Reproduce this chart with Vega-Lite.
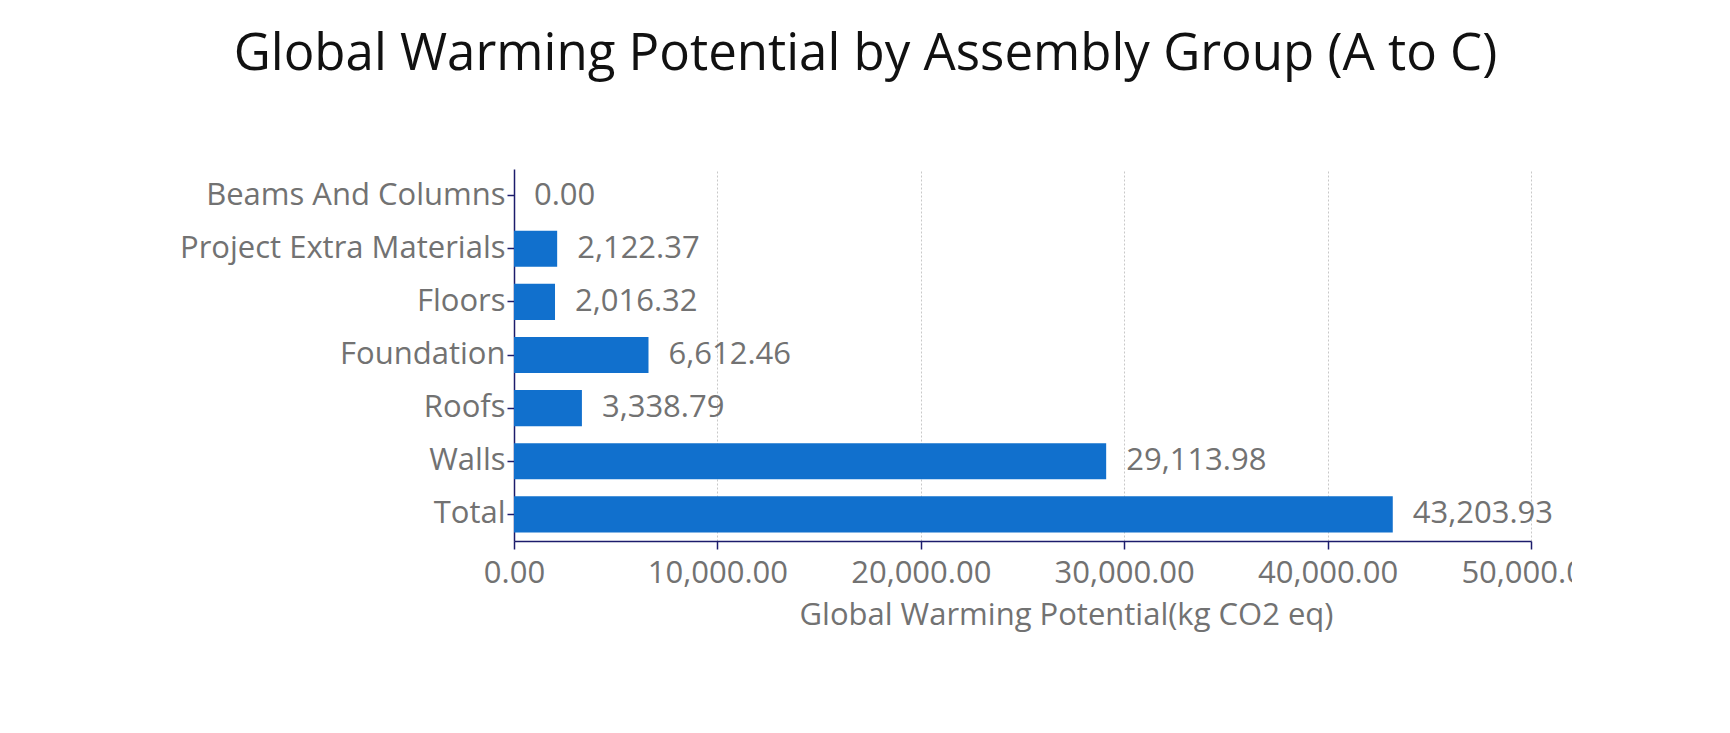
{
  "$schema": "https://vega.github.io/schema/vega-lite/v6.json",
  "width": 1017,
  "height": 372,
  "autosize": {"type": "none"},
  "padding": {"left": 514, "top": 169, "right": 41, "bottom": 192},
  "background": "white",
  "title": {
    "text": "Global Warming Potential by Assembly Group (A to C)",
    "font": "Open Sans",
    "fontSize": 51,
    "fontWeight": "normal",
    "color": "#111111",
    "anchor": "middle",
    "dx": -157,
    "baseline": "alphabetic",
    "offset": 48
  },
  "data": {
    "values": [
      {"group": "Beams And Columns", "gwp": 0.0},
      {"group": "Project Extra Materials", "gwp": 2122.37},
      {"group": "Floors", "gwp": 2016.32},
      {"group": "Foundation", "gwp": 6612.46},
      {"group": "Roofs", "gwp": 3338.79},
      {"group": "Walls", "gwp": 29113.98},
      {"group": "Total", "gwp": 43203.93}
    ]
  },
  "config": {
    "view": {"stroke": null},
    "axis": {
      "labelFont": "Open Sans",
      "titleFont": "Open Sans",
      "labelColor": "#727272",
      "titleColor": "#727272",
      "domainColor": "#1c1c6c",
      "tickColor": "#1c1c6c",
      "domainWidth": 1.5,
      "tickWidth": 1.5
    }
  },
  "encoding": {
    "y": {
      "field": "group",
      "type": "nominal",
      "sort": null,
      "scale": {"paddingInner": 0.32, "paddingOuter": 0.16},
      "axis": {
        "title": null,
        "labelFontSize": 31,
        "labelLimit": 500,
        "tickSize": 7,
        "labelPadding": 2,
        "grid": false
      }
    },
    "x": {
      "field": "gwp",
      "type": "quantitative",
      "scale": {"domain": [0, 50000]},
      "axis": {
        "title": "Global Warming Potential(kg CO2 eq)",
        "format": ",.2f",
        "values": [0, 10000, 20000, 30000, 40000, 50000],
        "labelOverlap": false,
        "labelFlush": false,
        "labelFontSize": 31,
        "titleFontSize": 31,
        "titleFontWeight": "normal",
        "tickSize": 8,
        "labelPadding": 9,
        "titlePadding": 12,
        "titleX": 552,
        "titleAnchor": "middle",
        "grid": true,
        "gridColor": "#c8c8c8",
        "gridDash": [2, 2],
        "gridWidth": 1
      }
    }
  },
  "layer": [
    {"mark": {"type": "bar", "color": "#1170cd"}},
    {
      "mark": {"type": "text", "align": "left", "baseline": "middle", "dx": 20, "font": "Open Sans", "fontSize": 31, "color": "#727272"},
      "encoding": {"text": {"field": "gwp", "type": "quantitative", "format": ",.2f"}}
    }
  ]
}
